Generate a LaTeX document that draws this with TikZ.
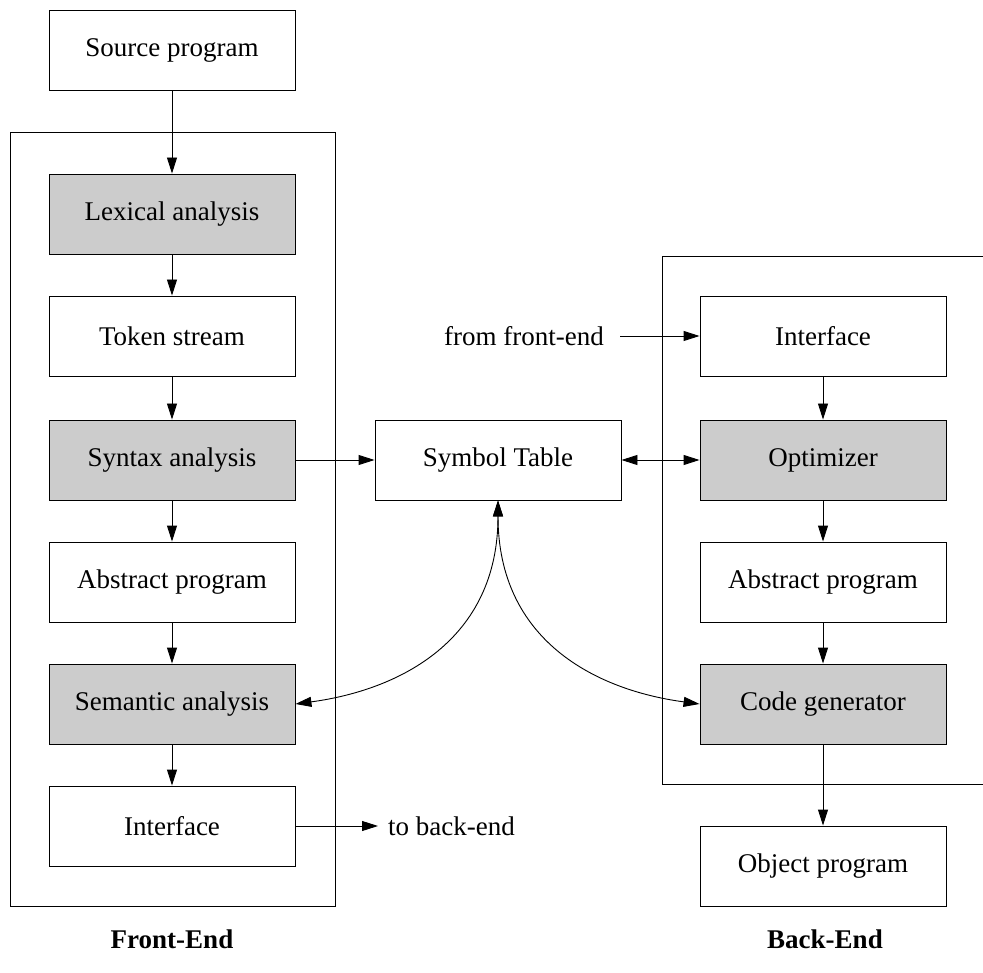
\documentclass[tikz,border=0pt]{standalone}
\usepackage{fontspec}
\setmainfont{Liberation Serif}
\usetikzlibrary{arrows.meta}
\begin{document}
\begin{tikzpicture}[x=1pt,y=-1pt,
  box/.style={draw, line width=0.9pt, minimum width=246pt, minimum height=80pt, inner sep=0pt, font=\fontsize{27}{31}\selectfont},
  grey/.style={box, fill=black!20},
  arr/.style={line width=0.9pt, -{Triangle[length=16pt,width=10pt]}},
  barr/.style={line width=0.9pt, {Triangle[length=16pt,width=10pt]}-{Triangle[length=16pt,width=10pt]}},
  frame/.style={line width=0.9pt},
  lbl/.style={font=\fontsize{27}{31}\selectfont, inner sep=0pt},
  blbl/.style={font=\fontsize{27}{31}\selectfont\bfseries, inner sep=0pt}]
\useasboundingbox (0,0) rectangle (983,973);
% frames
\draw[frame] (10,132) rectangle (335,906);
\draw[frame] (983,256) -- (662,256) -- (662,784) -- (983,784);
% left column
\node[box]  (src) at (172,50)  {Source program};
\node[grey] (lex) at (172,214) {Lexical analysis};
\node[box]  (tok) at (172,336) {Token stream};
\node[grey] (syn) at (172,460) {Syntax analysis};
\node[box]  (abs) at (172,582) {Abstract program};
\node[grey] (sem) at (172,704) {Semantic analysis};
\node[box]  (ifc) at (172,826) {Interface};
% middle
\node[box]  (st)  at (498,460) {Symbol Table};
% right column
\node[box]  (rif) at (823,336) {Interface};
\node[grey] (opt) at (823,460) {Optimizer};
\node[box]  (rab) at (823,582) {Abstract program};
\node[grey] (cg)  at (823,704) {Code generator};
\node[box]  (obj) at (823,866) {Object program};
% labels
\node[lbl, anchor=west] (tbe) at (388,826) {to back-end};
\node[lbl, anchor=east] (ffe) at (604,336) {from front-end};
\node[blbl] (fe) at (172,939) {Front-End};
\node[blbl] (be) at (825,939) {Back-End};
% arrows
\draw[arr] (src) -- (lex);
\draw[arr] (lex) -- (tok);
\draw[arr] (tok) -- (syn);
\draw[arr] (syn) -- (abs);
\draw[arr] (abs) -- (sem);
\draw[arr] (sem) -- (ifc);
\draw[arr] (syn) -- (st);
\draw[barr] (st) -- (opt);
\draw[arr] (rif) -- (opt);
\draw[arr] (opt) -- (rab);
\draw[arr] (rab) -- (cg);
\draw[arr] (cg) -- (obj);
\draw[arr] (ifc.east) -- ([xshift=-10pt]tbe.west);
\draw[arr] ([xshift=16pt]ffe.east) -- (rif.west);
\draw[barr] (sem.east) .. controls +(104,-14) and +(0,140) .. (st.south);
\draw[barr] (cg.west) .. controls +(-104,-14) and +(0,140) .. (st.south);
\end{tikzpicture}
\end{document}
